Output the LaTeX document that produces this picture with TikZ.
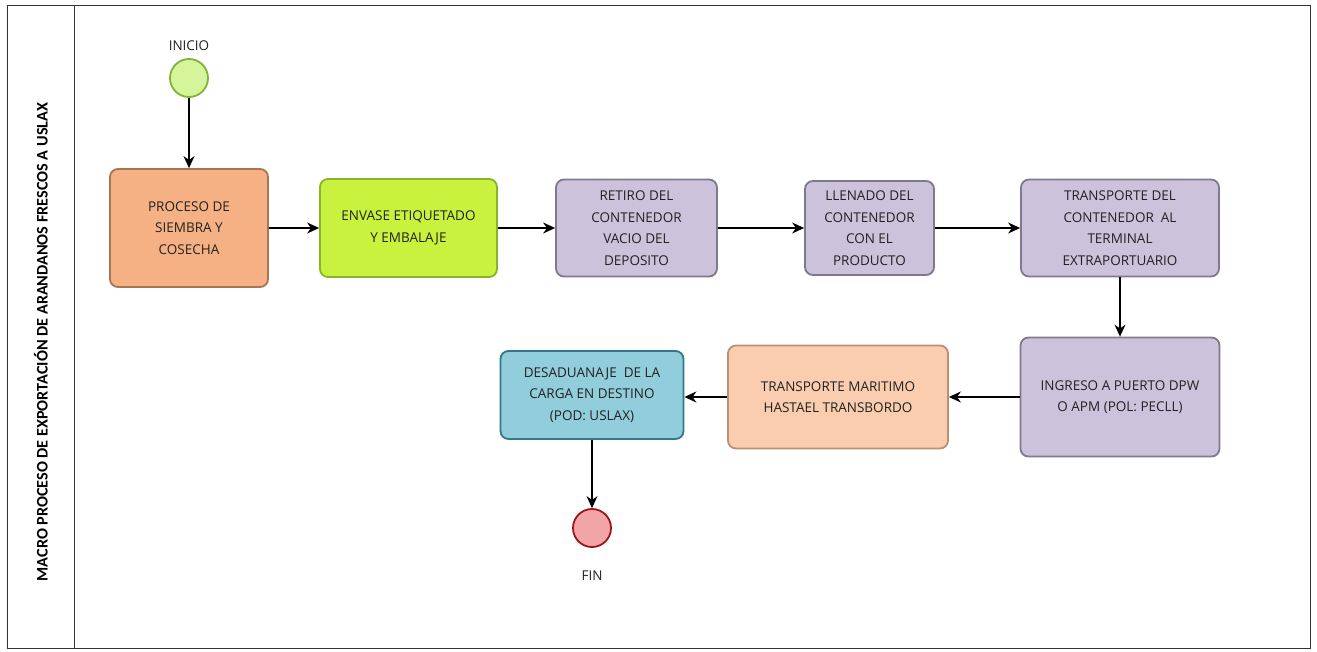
\documentclass[tikz,border=0pt]{standalone}
\usepackage{fontspec}
\setmainfont{Open Sans}
\newfontfamily\lanefont{Carlito}
\usetikzlibrary{arrows.meta}
\definecolor{orfill}{HTML}{F5B183}
\definecolor{ordraw}{HTML}{A7754F}
\definecolor{limefill}{HTML}{C9F23E}
\definecolor{limedraw}{HTML}{86B52C}
\definecolor{lavfill}{HTML}{CDC2DC}
\definecolor{lavdraw}{HTML}{7E7A8A}
\definecolor{peachfill}{HTML}{F9CDAE}
\definecolor{peachdraw}{HTML}{B89078}
\definecolor{bluefill}{HTML}{92CDDC}
\definecolor{bluedraw}{HTML}{31788A}
\definecolor{startfill}{HTML}{D6F59A}
\definecolor{startdraw}{HTML}{7FB33A}
\definecolor{endfill}{HTML}{F2A5A5}
\definecolor{enddraw}{HTML}{A0141E}
\definecolor{txt}{HTML}{222222}
\tikzset{
  task/.style={draw, line width=1.8pt, rounded corners=8pt, align=center, inner sep=0pt,
    text=txt, font=\fontsize{13.5}{21.5}\selectfont},
  evt/.style={circle, line width=1.8pt, minimum size=38pt, inner sep=0pt},
  flow/.style={draw=black, line width=1.3pt, -{Stealth[length=12pt,width=11pt]}},
  lbl/.style={text=txt, font=\fontsize{13.5}{15}\selectfont}
}
\begin{document}
\begin{tikzpicture}[x=1pt,y=-1pt]
\useasboundingbox (0,0) rectangle (1317,651);
\draw[line width=1pt, draw=black!80] (7,5) rectangle (1310,648);
\draw[line width=1pt, draw=black!80] (74,5) -- (74,648);
\node[rotate=90, font=\lanefont\bfseries\fontsize{16.2}{18}\selectfont] (lane) at (41,342) {MACRO PROCESO DE EXPORTACIÓN DE ARANDANOS FRESCOS A USLAX};

\node[evt, draw=startdraw, fill=startfill] (ini) at (189,78) {};
\node[lbl] (inilbl) at (189,46) {INICIO};

\node[task, fill=orfill, draw=ordraw, minimum width=158pt, minimum height=118pt] (p1) at (189,228) {PROCESO DE\\SIEMBRA Y\\COSECHA};
\node[task, fill=limefill, draw=limedraw, minimum width=177pt, minimum height=98pt] (p2) at (408.5,228) {ENVASE ETIQUETADO\\Y EMBALAJE};
\node[task, fill=lavfill, draw=lavdraw, minimum width=161pt, minimum height=97pt] (p3) at (636.5,228) {RETIRO DEL\\CONTENEDOR\\VACIO DEL\\DEPOSITO};
\node[task, fill=lavfill, draw=lavdraw, minimum width=129pt, minimum height=94pt] (p4) at (869.5,228) {LLENADO DEL\\CONTENEDOR\\CON EL\\PRODUCTO};
\node[task, fill=lavfill, draw=lavdraw, minimum width=198pt, minimum height=97pt] (p5) at (1120,228) {TRANSPORTE DEL\\CONTENEDOR\ \ AL\\TERMINAL\\EXTRAPORTUARIO};
\node[task, fill=lavfill, draw=lavdraw, minimum width=199pt, minimum height=119pt] (p6) at (1120,397) {INGRESO A PUERTO DPW\\O APM (POL: PECLL)};
\node[task, fill=peachfill, draw=peachdraw, minimum width=220pt, minimum height=103pt] (p7) at (838,397) {TRANSPORTE MARITIMO\\HASTAEL TRANSBORDO};
\node[task, fill=bluefill, draw=bluedraw, minimum width=183pt, minimum height=88pt] (p8) at (592,395) {DESADUANAJE\ \ DE LA\\CARGA EN DESTINO\\(POD: USLAX)};

\node[evt, draw=enddraw, fill=endfill] (fin) at (592,528) {};
\node[lbl] (finlbl) at (592,576) {FIN};

\draw[flow] (ini) -- (p1);
\draw[flow] (p1) -- (p2);
\draw[flow] (p2) -- (p3);
\draw[flow] (p3) -- (p4);
\draw[flow] (p4) -- (p5);
\draw[flow] (p5) -- (p6);
\draw[flow] (p6) -- (p7);
\draw[flow] (p7.west) -- (p8.east |- p7.west);
\draw[flow] (p8) -- (fin);
\end{tikzpicture}
\end{document}
